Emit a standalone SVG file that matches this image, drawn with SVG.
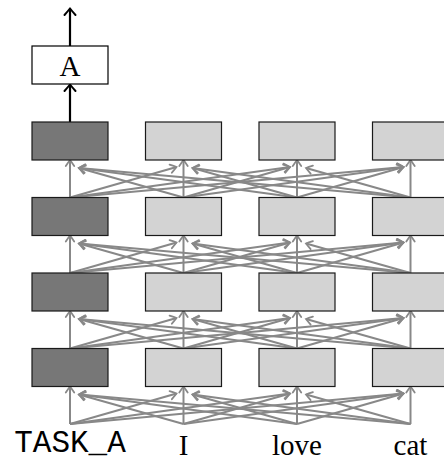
<svg xmlns="http://www.w3.org/2000/svg" width="444" height="461" viewBox="0 0 444 461">
<style>
.dark{fill:#777777;stroke:#1a1a1a;stroke-width:1.2}
.light{fill:#d3d3d3;stroke:#1a1a1a;stroke-width:1.2}
.white{fill:#ffffff;stroke:#000000;stroke-width:1.2}
.conn path{fill:none;stroke:#888888;stroke-width:2;marker-end:url(#ga)}
.blk{fill:none;stroke:#000000;stroke-width:2.2;marker-end:url(#ba)}
.serif{font-family:"Liberation Serif","Times New Roman",serif;fill:#000;text-anchor:middle}
</style>
<defs>
<marker id="ga" markerUnits="userSpaceOnUse" viewBox="-8 -6 10 12" markerWidth="10" markerHeight="12" refX="0" refY="0" orient="auto" overflow="visible">
<path d="M-6,-4.2 Q-2,-1.5 0,0 Q-2,1.5 -6,4.2" fill="none" stroke="#888888" stroke-width="1.8" stroke-linecap="round"/>
</marker>
<marker id="ba" markerUnits="userSpaceOnUse" viewBox="-10 -8 12 16" markerWidth="12" markerHeight="16" refX="0" refY="0" orient="auto" overflow="visible">
<path d="M-6.5,-5.5 Q-2.5,-2 0,0 Q-2.5,2 -6.5,5.5" fill="none" stroke="#000000" stroke-width="2" stroke-linecap="round"/>
</marker>
</defs>
<g id="connectors">
<g class="conn" id="gap1">
<path d="M70 197.5 L70 160"/><path d="M183.5 197.5 L79 168"/><path d="M297 197.5 L79 168"/><path d="M410.5 197.5 L79 168"/>
<path d="M70 197.5 L176.5 167"/><path d="M183.5 197.5 L183.5 160"/><path d="M297 197.5 L192.5 168"/><path d="M410.5 197.5 L192.5 168"/>
<path d="M70 197.5 L290 167"/><path d="M183.5 197.5 L290 167"/><path d="M297 197.5 L297 160"/><path d="M410.5 197.5 L306 168"/>
<path d="M70 197.5 L403.5 167"/><path d="M183.5 197.5 L403.5 167"/><path d="M297 197.5 L403.5 167"/><path d="M410.5 197.5 L410.5 160"/>
</g>
<g class="conn" id="gap2">
<path d="M70 273 L70 235.5"/><path d="M183.5 273 L79 243.5"/><path d="M297 273 L79 243.5"/><path d="M410.5 273 L79 243.5"/>
<path d="M70 273 L176.5 242.5"/><path d="M183.5 273 L183.5 235.5"/><path d="M297 273 L192.5 243.5"/><path d="M410.5 273 L192.5 243.5"/>
<path d="M70 273 L290 242.5"/><path d="M183.5 273 L290 242.5"/><path d="M297 273 L297 235.5"/><path d="M410.5 273 L306 243.5"/>
<path d="M70 273 L403.5 242.5"/><path d="M183.5 273 L403.5 242.5"/><path d="M297 273 L403.5 242.5"/><path d="M410.5 273 L410.5 235.5"/>
</g>
<g class="conn" id="gap3">
<path d="M70 348.5 L70 311"/><path d="M183.5 348.5 L79 319"/><path d="M297 348.5 L79 319"/><path d="M410.5 348.5 L79 319"/>
<path d="M70 348.5 L176.5 318"/><path d="M183.5 348.5 L183.5 311"/><path d="M297 348.5 L192.5 319"/><path d="M410.5 348.5 L192.5 319"/>
<path d="M70 348.5 L290 318"/><path d="M183.5 348.5 L290 318"/><path d="M297 348.5 L297 311"/><path d="M410.5 348.5 L306 319"/>
<path d="M70 348.5 L403.5 318"/><path d="M183.5 348.5 L403.5 318"/><path d="M297 348.5 L403.5 318"/><path d="M410.5 348.5 L410.5 311"/>
</g>
<g class="conn" id="gap4">
<path d="M70 424 L70 386.5"/><path d="M183.5 424 L79 394.5"/><path d="M297 424 L79 394.5"/><path d="M410.5 424 L79 394.5"/>
<path d="M70 424 L176.5 393.5"/><path d="M183.5 424 L183.5 386.5"/><path d="M297 424 L192.5 394.5"/><path d="M410.5 424 L192.5 394.5"/>
<path d="M70 424 L290 393.5"/><path d="M183.5 424 L290 393.5"/><path d="M297 424 L297 386.5"/><path d="M410.5 424 L306 394.5"/>
<path d="M70 424 L403.5 393.5"/><path d="M183.5 424 L403.5 393.5"/><path d="M297 424 L403.5 393.5"/><path d="M410.5 424 L410.5 386.5"/>
</g>
<path class="blk" d="M70 122 L70 84.5"/>
<path class="blk" d="M70 46 L70 8.5"/>
</g>
<g id="nodeA"><rect class="white" x="32" y="46" width="76" height="38"/><text class="serif" x="70" y="76" font-size="29">A</text></g>
<g id="r1c1"><rect class="dark" x="32" y="122" width="76" height="38"/></g>
<g id="r1c2"><rect class="light" x="145.5" y="122" width="76" height="38"/></g>
<g id="r1c3"><rect class="light" x="259" y="122" width="76" height="38"/></g>
<g id="r1c4"><rect class="light" x="372.5" y="122" width="76" height="38"/></g>
<g id="r2c1"><rect class="dark" x="32" y="197.5" width="76" height="38"/></g>
<g id="r2c2"><rect class="light" x="145.5" y="197.5" width="76" height="38"/></g>
<g id="r2c3"><rect class="light" x="259" y="197.5" width="76" height="38"/></g>
<g id="r2c4"><rect class="light" x="372.5" y="197.5" width="76" height="38"/></g>
<g id="r3c1"><rect class="dark" x="32" y="273" width="76" height="38"/></g>
<g id="r3c2"><rect class="light" x="145.5" y="273" width="76" height="38"/></g>
<g id="r3c3"><rect class="light" x="259" y="273" width="76" height="38"/></g>
<g id="r3c4"><rect class="light" x="372.5" y="273" width="76" height="38"/></g>
<g id="r4c1"><rect class="dark" x="32" y="348.5" width="76" height="38"/></g>
<g id="r4c2"><rect class="light" x="145.5" y="348.5" width="76" height="38"/></g>
<g id="r4c3"><rect class="light" x="259" y="348.5" width="76" height="38"/></g>
<g id="r4c4"><rect class="light" x="372.5" y="348.5" width="76" height="38"/></g>
<g id="in1"><text x="70" y="452" font-size="31" font-family="'Liberation Mono', 'DejaVu Sans Mono', 'Courier New', monospace" text-anchor="middle" fill="#000">TASK_A</text></g>
<g id="in2"><text class="serif" x="183.5" y="455" font-size="29">I</text></g>
<g id="in3"><text class="serif" x="297" y="455" font-size="29">love</text></g>
<g id="in4"><text class="serif" x="410.5" y="455" font-size="29">cat</text></g>
</svg>
